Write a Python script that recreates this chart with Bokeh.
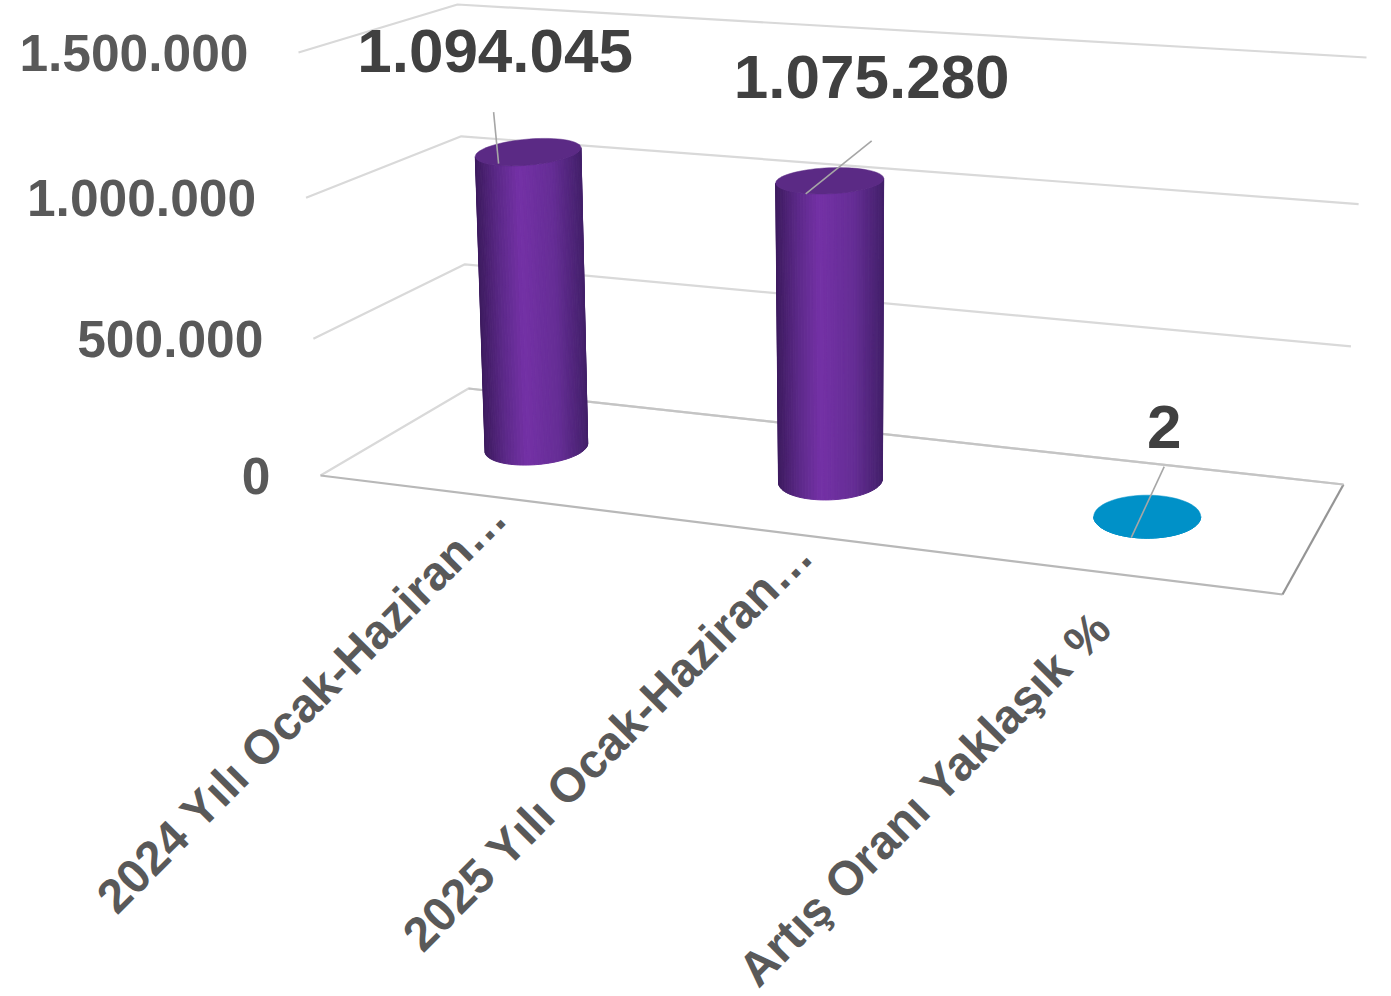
import math
from bokeh.embed import file_html
from bokeh.resources import INLINE
from bokeh.plotting import figure
from bokeh.models import Range1d
from bokeh.core.properties import value

# --- data
categories = ["2024 Yılı Ocak-Haziran…", "2025 Yılı Ocak-Haziran…", "Artış Oranı Yaklaşık %"]
values = [1094045, 1075280, 2]
value_labels = ["1.094.045", "1.075.280", "2"]
y_ticks = [0, 500000, 1000000, 1500000]
y_tick_labels = ["0", "500.000", "1.000.000", "1.500.000"]
y_max = 1500000

# --- layout of the pseudo-3D box, in page pixels
FL0, BL0, FR0, BR0 = (320, 475), (468, 388), (1282, 594), (1343, 484)
FL1, BL1, FR1, BR1 = (298, 52), (457, 4), (1290, 124), (1366, 57)
U_MAX = 3.0
PERSPECTIVE = 0.045
bar_u = [0.459, 1.417, 2.451]
bar_d = [0.51, 0.52, 0.53]
top_rx = [53, 54, 53.5]
bot_rx = [51.5, 52, 53.5]
top_ry = [13, 13, 21.5]
bot_ry = [17, 19, 21.5]
tilt_deg = [-5, -2.5, 0]
side_stops = [[(0, "#43206a"), (0.28, "#652d95"), (0.6, "#7431a6"), (0.8, "#5c2989"), (1, "#3d1b5f")]] * 2 + [[(0, "#0091c8"), (1, "#0091c8")]]
top_colors = ["#5b2a85", "#5b2a85", "#0091c8"]
leader_from = [(-34.5, -40), (42, -40), (17, -50)]
leader_to = [(-29.5, 11.5), (-24, 13), (-16, 21)]
label_at = [(-33, -101), (42, -104), (17, -90)]
cat_end = [(498, 508), (804, 546), (1102, 619)]


def lerp(a, b, t):
    return a + (b - a) * t


def project(u, d, v):
    f = u / U_MAX
    t = v / y_max
    w = t - PERSPECTIVE * t * (1 - t)
    out = []
    for k in (0, 1):
        lo = lerp(lerp(FL0[k], BL0[k], d), lerp(FR0[k], BR0[k], d), f)
        hi = lerp(lerp(FL1[k], BL1[k], d), lerp(FR1[k], BR1[k], d), f)
        out.append(lerp(lo, hi, w))
    return out


def hex2rgb(h):
    return tuple(int(h[i:i + 2], 16) for i in (1, 3, 5))


def shade(stops, f):
    for (f0, c0), (f1, c1) in zip(stops, stops[1:]):
        if f <= f1:
            t = (f - f0) / (f1 - f0)
            a, b = hex2rgb(c0), hex2rgb(c1)
            return "#%02x%02x%02x" % tuple(round(lerp(x, y, t)) for x, y in zip(a, b))
    return stops[-1][1]


def ellipse_pt(c, rx, ry, tilt, t):
    ex, ey = rx * math.cos(t), ry * math.sin(t)
    ca, sa = math.cos(tilt), math.sin(tilt)
    return c[0] + ex * ca - ey * sa, c[1] + ex * sa + ey * ca


W, H = 1391, 996
p = figure(width=W, height=H, output_backend="svg", toolbar_location=None,
           x_range=Range1d(0, W), y_range=Range1d(H, 0), min_border=0)
p.axis.visible = False
p.grid.visible = False
p.outline_line_color = None
p.background_fill_color = "#ffffff"
p.border_fill_color = "#ffffff"

GRID = "#d9d9d9"
for v in y_ticks:
    a, b, c = project(0, 0, v), project(0, 1, v), project(U_MAX, 1, v)
    p.line([a[0], b[0], c[0]], [a[1], b[1], c[1]], line_color=GRID, line_width=2.2)

# floor edges
a, b, c = project(0, 0, 0), project(U_MAX, 0, 0), project(U_MAX, 1, 0)
p.line([a[0], b[0]], [a[1], b[1]], line_color="#b8b8b8", line_width=2.2)
p.line([b[0], c[0]], [b[1], c[1]], line_color="#959595", line_width=2.2)
a, c = project(0, 1, 0), project(U_MAX, 1, 0)
p.line([a[0], c[0]], [a[1], c[1]], line_color="#c4c4c4", line_width=2.2)

# cylinders, from the values through the projection
for i, val in enumerate(values):
    B = project(bar_u[i], bar_d[i], 0)
    T = project(bar_u[i], bar_d[i], val)
    tilt = math.radians(tilt_deg[i])
    n = 48
    xs, ys, cols = [], [], []
    for k in range(n):
        t0, t1 = math.pi * (1 - k / n), math.pi * (1 - (k + 1) / n)
        pts = [ellipse_pt(T, top_rx[i], top_ry[i], tilt, t0), ellipse_pt(T, top_rx[i], top_ry[i], tilt, t1),
               ellipse_pt(B, bot_rx[i], bot_ry[i], tilt, t1), ellipse_pt(B, bot_rx[i], bot_ry[i], tilt, t0)]
        xs.append([q[0] for q in pts])
        ys.append([q[1] for q in pts])
        cols.append(shade(side_stops[i], (1 - math.cos((t0 + t1) / 2)) / 2))
    p.patches(xs, ys, fill_color=cols, line_color=cols, line_width=1.0)
    top = [ellipse_pt(T, top_rx[i], top_ry[i], tilt, 2 * math.pi * k / 72) for k in range(72)]
    p.patch([q[0] for q in top], [q[1] for q in top], fill_color=top_colors[i], line_color=top_colors[i], line_width=0.5)
    # leader and value label
    p.line([T[0] + leader_from[i][0], T[0] + leader_to[i][0]], [T[1] + leader_from[i][1], T[1] + leader_to[i][1]],
           line_color="#a6a6a6", line_width=1.6)
    p.text([T[0] + label_at[i][0]], [T[1] + label_at[i][1]], text=[value_labels[i]], text_align="center",
           text_baseline="middle", text_font=value("Liberation Sans"), text_font_style="bold",
           text_font_size="62px", text_color="#404040")

# value-axis labels
for v, lab in zip(y_ticks, y_tick_labels):
    q = project(0, 0, v)
    p.text([q[0] - 50], [q[1]], text=[lab], text_align="right", text_baseline="middle",
           text_font=value("Liberation Sans"), text_font_style="bold", text_font_size="51.5px", text_color="#595959")

# category labels
for (x, y), lab in zip(cat_end, categories):
    p.text([x], [y], text=[lab], angle=[math.radians(45.2)], text_align="right", text_baseline="middle",
           text_font=value("Liberation Sans"), text_font_style="bold", text_font_size="47.8px", text_color="#595959")

open("out.html", "w").write(file_html(p, INLINE))
